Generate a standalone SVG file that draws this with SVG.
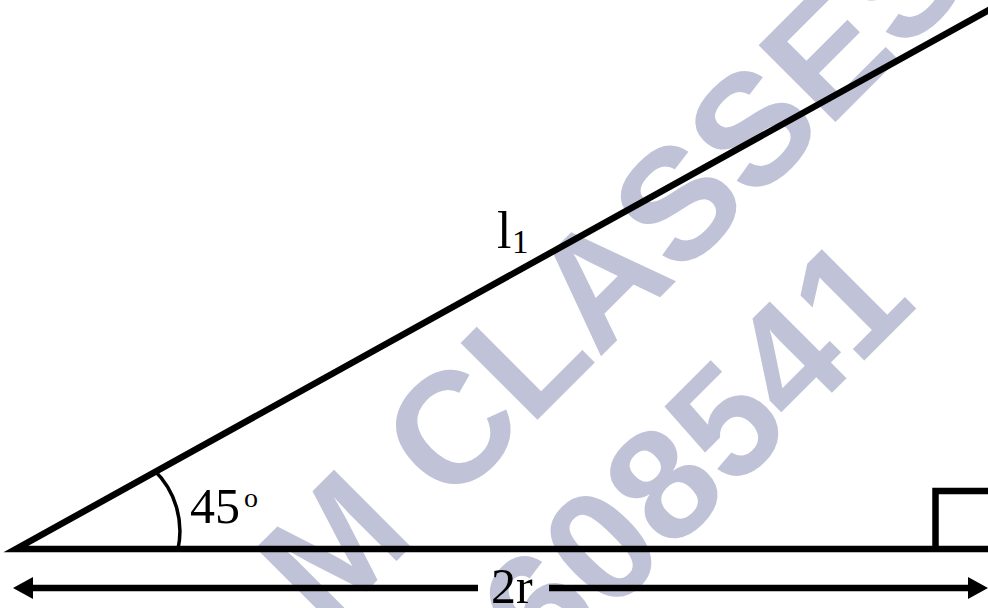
<svg xmlns="http://www.w3.org/2000/svg" width="988" height="608" viewBox="0 0 988 608">
<style>
.wm{font-family:"Liberation Sans",Arial,sans-serif;font-weight:bold;font-size:158px;fill:#c0c3d8}
.ln{stroke:#000;stroke-width:6.5;fill:none;stroke-linecap:butt}
.lbl{font-family:"Liberation Serif","Times New Roman",serif;fill:#000}
</style>
<defs>
<marker id="ah" markerUnits="userSpaceOnUse" markerWidth="22" markerHeight="24" refX="0" refY="12" orient="auto-start-reverse" overflow="visible">
<path d="M0,1 L20,12 L0,23 Z" fill="#000"/>
</marker>
</defs>
<rect width="988" height="608" fill="#fff"/>
<g id="watermark" transform="rotate(-45)">
<text class="wm" x="-217" y="677">M CLASSES</text>
<text class="wm" x="-93" y="866">608541</text>
</g>
<g id="connectors">
<path class="ln" d="M996,6 L16,549 L988,549" stroke-miterlimit="10"/>
<path class="ln" d="M935.5,549 V491 H990"/>
<path d="M154,470 A85,85 0 0 1 178,549" stroke="#000" stroke-width="3.5" fill="none"/>
<line class="ln" x1="478" y1="588" x2="33" y2="588" marker-end="url(#ah)"/>
<line class="ln" x1="549" y1="588" x2="968" y2="588" marker-end="url(#ah)"/>
</g>
<g id="angle-label">
<text class="lbl" x="190" y="523" font-size="50">45</text>
<text class="lbl" x="244" y="507" font-size="28">o</text>
</g>
<g id="side-label">
<text class="lbl" x="497" y="248" font-size="52">l</text>
<text class="lbl" x="512" y="253" font-size="33">1</text>
</g>
<g id="base-label">
<text class="lbl" x="491" y="603" font-size="50">2r</text>
</g>
</svg>
